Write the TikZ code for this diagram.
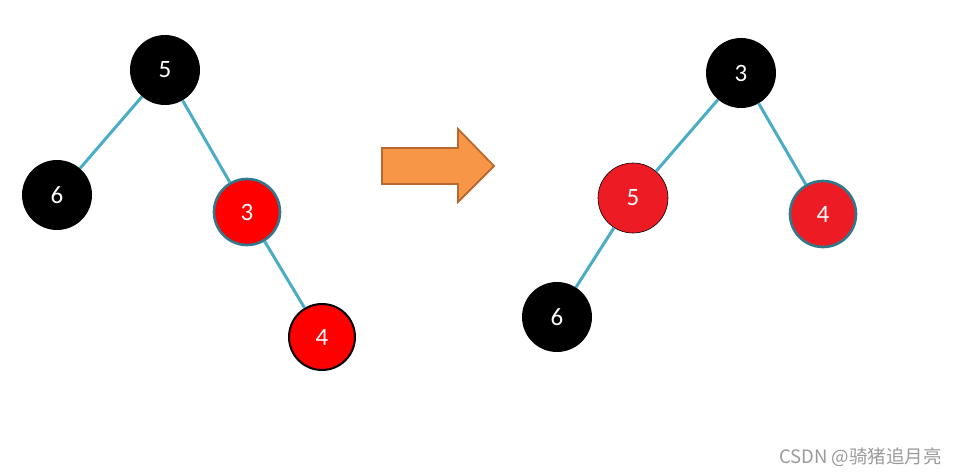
\documentclass[tikz,border=0pt]{standalone}
\usepackage{fontspec}
\setmainfont{Carlito}
\newfontfamily\cjkfont{Noto Sans CJK SC}
\definecolor{edgeblue}{HTML}{4BACC6}
\definecolor{rimteal}{HTML}{31788A}
\definecolor{redA}{HTML}{FF0000}
\definecolor{redB}{HTML}{ED1C24}
\definecolor{arrowfill}{HTML}{F79646}
\definecolor{arrowedge}{HTML}{B9682F}
\definecolor{wmgray}{HTML}{9A9A9A}
\begin{document}
\begin{tikzpicture}[x=1pt,y=-1pt,
  rbnode/.style={circle,inner sep=0pt,text=white,font=\fontsize{25}{25}\selectfont},
  blacknode/.style={rbnode,fill=black,minimum size=70pt},
  rednodeA/.style={rbnode,fill=redA,minimum size=66pt},
  redrim/.style={draw=rimteal,line width=2.6pt},
  blackrim/.style={draw=black,line width=2pt},
  thinrim/.style={draw=black,line width=0.6pt},
  edge/.style={draw=edgeblue,line width=3pt},
  bigarrow/.style={fill=arrowfill,draw=arrowedge,line width=1.8pt,line join=miter}]
\useasboundingbox (0,0) rectangle (956,476);
% left tree
\node[blacknode] (L5) at (165,70) {5};
\node[blacknode] (L6) at (57,195) {6};
\node[rednodeA,redrim] (L3) at (247,212) {3};
\node[rednodeA,blackrim] (L4) at (322,337) {4};
\draw[edge] (L5) -- (L6);
\draw[edge] (L5) -- (L3);
\draw[edge] (L3) -- (L4);
% arrow
\draw[bigarrow] (382,148) -- (458,148) -- (458,129) -- (494,166) -- (458,202) -- (458,184) -- (382,184) -- cycle;
% right tree
\node[blacknode] (R3) at (741,73) {3};
\node[rednodeA,fill=redB,thinrim,minimum size=70pt] (R5) at (633,198) {5};
\node[rednodeA,fill=redB,redrim] (R4) at (823,214) {4};
\node[blacknode] (R6) at (557,317) {6};
\draw[edge] (R3) -- (R5);
\draw[edge] (R3) -- (R4);
\draw[edge] (R5) -- (R6);
% watermark
\node[anchor=east,text=wmgray,font=\cjkfont\fontsize{18.5}{18.5}\selectfont,inner sep=0pt] (wm) at (942,457) {CSDN @骑猪追月亮};
\end{tikzpicture}
\end{document}
